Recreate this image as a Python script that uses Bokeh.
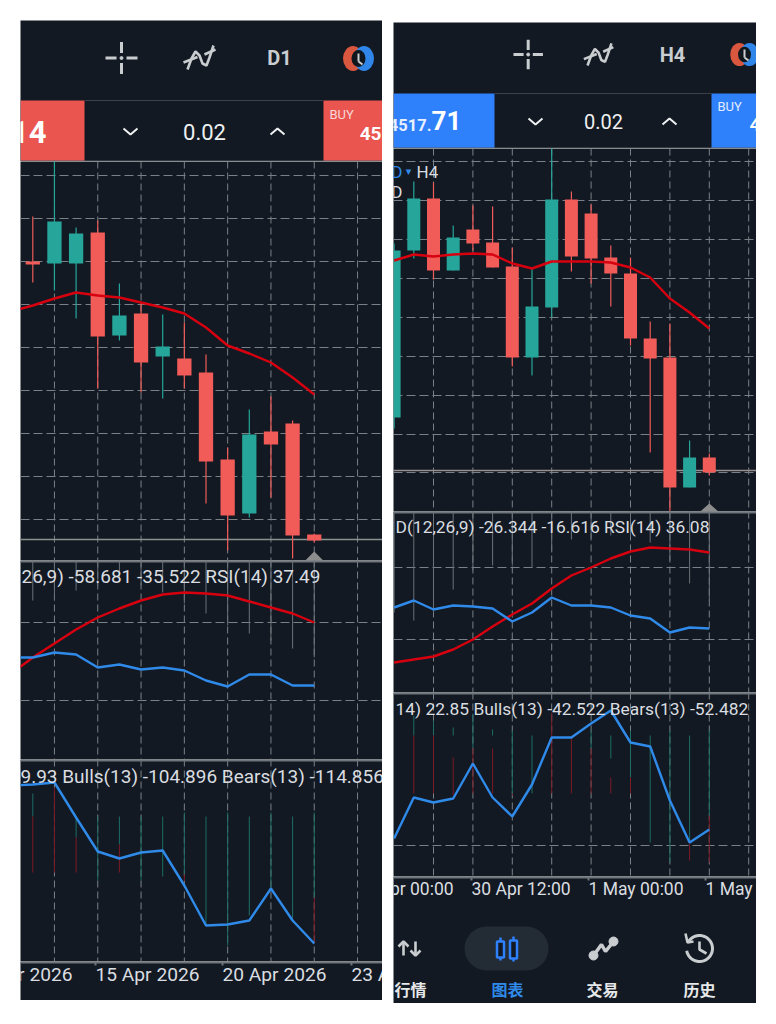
import numpy as np
from bokeh.plotting import figure
from bokeh.layouts import row, column
from bokeh.models import Range1d, Span, Spacer, ColumnDataSource
from bokeh.core.properties import value
from bokeh.embed import file_html
from bokeh.resources import INLINE

# ---- D1 panel values (pane units)
d1_open  = [4778,4776,4776,4807,4704,4726,4683,4681,4667,4580,4526,4608,4616,4505]
d1_high  = [4823,4889,4812,4819,4756,4737,4725,4717,4685,4592,4630,4643,4619,4506]
d1_low   = [4757,4749,4721,4651,4699,4647,4641,4651,4536,4489,4522,4542,4481,4497]
d1_close = [4775,4818,4806,4703,4724,4677,4693,4664,4578,4524,4605,4595,4504,4499]
d1_ma    = [4728,4734,4741,4747,4744,4742,4737,4732,4726,4712,4694,4686,4677,4662,4645]
d1_grid  = [4864,4821,4778,4735,4692,4649,4606,4563,4520]
d1_last  = 4500
d1_macd  = [-129,-129,-124,-126,-139,-136,-141,-139,-142,-152,-158,-146,-146,-157,-157]
d1_signal= [-145,-129,-115,-101,-89,-80,-72,-66,-64,-65,-67,-73,-79,-85,-94]
d1_hist  = [-72,-72,-62,-57,-52,-57,-64,-75,-85,-97,-105,-112,-120,-129]
d1_macd_grid = [-94,-172]
d1_rsi   = [31,32,34,-1,-35,-42,-36,-34,-69,-109,-108,-104,-72,-104,-127]
d1_bull_hi = [23,0,0,0,0,0,0,4,0,4,0,4,0,4]
d1_bull_lo = [0,0,-21,-64,-28,-64,-60,-58,-109,-129,-99,-72,-102,-81]
d1_bear_hi = [0,29,-21,0,-28,0,0,-58,0,0,0,0,0,-81]
d1_bear_lo = [-56,-56,-56,0,-56,0,0,-64,0,0,0,0,0,-127]
d1_text_macd = "26,9) -58.681 -35.522 RSI(14) 37.49"
d1_text_rsi  = "9.93 Bulls(13) -104.896 Bears(13) -114.856"
d1_dates = ["10 Apr 2026","15 Apr 2026","20 Apr 2026","23 Apr 2026"]

# ---- H4 panel values
h4_open  = [4571,4738,4790,4718,4759,4746,4722,4631,4681,4789,4775,4731,4715,4650,4631,4501,4531]
h4_high  = [4745,4807,4806,4763,4783,4782,4741,4720,4848,4797,4784,4743,4731,4667,4665,4548,4535]
h4_low   = [4560,4730,4709,4718,4738,4721,4622,4613,4671,4717,4705,4682,4643,4536,4476,4501,4513]
h4_close = [4738,4790,4718,4751,4745,4721,4631,4682,4789,4732,4730,4715,4650,4630,4501,4531,4516]
h4_ma    = [4728,4734,4732,4734,4735,4734,4725,4720,4727,4727,4727,4726,4721,4711,4690,4676,4660]
h4_grid  = [4827,4788,4749,4710,4671,4632,4593,4554,4516]
h4_last  = 4518
h4_macd  = [-185,-178,-187,-183,-184,-186,-199,-190,-175,-183,-183,-185,-193,-196,-210,-205,-206]
h4_signal= [-240,-237,-234,-227,-217,-204,-192,-181,-166,-153,-145,-136,-129,-125,-126,-127,-130]
h4_hist  = [-190,-198,-190,-167,-148,-143,-143,-145,-130,-117,-116,-113,-113,-120,-138,-161,-178]
h4_macd_grid = [-145,-217]
h4_rsi   = [-103,-62,-67,-63,-28,-62,-81,-49,-2,-2,12,25,-7,-11,-65,-107,-94]
h4_bull_hi = [0,20,15,8,22,6,5,0,0,0,5,0,5,0,5,0,5]
h4_bull_lo = [0,0,0,0,-12,0,-58,-58,0,0,-13,-23,-42,-107,-127,-107,-80]
h4_bear_hi = [0,0,0,-22,-13,-13,-58,0,23,-2,-13,-42,-42,0,0,-107,-80]
h4_bear_lo = [0,-58,-58,-60,-58,-58,-60,0,-58,-58,-58,-58,-58,0,0,-125,-127]
h4_rsi_grid = [-110]
h4_text_macd = "D(12,26,9) -26.344 -16.616 RSI(14) 36.08"
h4_text_rsi  = "14) 22.85 Bulls(13) -42.522 Bears(13) -52.482"
h4_dates = ["30 Apr 00:00","30 Apr 12:00","1 May 00:00","1 May 12:00"]
nav_labels = ["行情","图表","交易","历史"]

BG="#121922"; GRID="#7a8186"; TXT="#dadde0"; SEP="#6f757a"; UP="#26a69a"; DN="#f15b58"
MA_RED="#d8000f"; BLUE="#2f8aea"; BTN_RED="#ea5550"; BTN_BLUE="#2f80fb"; ICON="#c9cdd0"
HIST="#6b7177"; BULL="#1d6d66"; BEAR="#7c1a26"; LW=2.4

TF={}
def tx(f,x):
    b,s,_=TF[f.id]; return (x-b)/s
def ty(f,y):
    return TF[f.id][2]-y if TF[f.id][2] is not None else y

def base_fig(w,h,xr,yr):
    f=figure(width=w,height=h,x_range=xr,y_range=yr,x_axis_location=None,y_axis_location=None,
             toolbar_location=None,output_backend="svg",min_border=0,background_fill_color=BG,
             border_fill_color=BG,outline_line_color=None,tools="")
    f.grid.visible=False
    return f

def pane(x0,x1,ytop,ybot,bar0,step,base,gx):
    f=base_fig(x1-x0,ybot-ytop,Range1d((x0-bar0)/step,(x1-bar0)/step),Range1d(base-ybot,base-ytop))
    TF[f.id]=(bar0,step,base)
    for g in gx:
        f.add_layout(Span(location=g,dimension="height",line_color=GRID,line_width=1,line_dash="7 4",level="underlay"))
    return f

def hgrid(f,vals):
    for v in vals:
        f.add_layout(Span(location=v,dimension="width",line_color=GRID,line_width=1,line_dash="9 4",level="underlay"))

def sep(f,y):
    f.add_layout(Span(location=ty(f,y),dimension="width",line_color=SEP,line_width=2))

def label(f,x,y,t,size=18,color=TXT,align="left",style="normal",font="Roboto"):
    f.text(x=[tx(f,x)],y=[ty(f,y)],text=[t],text_font=value(font),text_font_size=f"{size}px",
           text_color=color,text_align=align,text_baseline="middle",text_font_style=style)

def candles(f,o,h,l,c,width):
    idx=list(range(len(o)))
    col=[UP if b>a else DN for a,b in zip(o,c)]
    src=ColumnDataSource(dict(x=idx,h=h,l=l,top=[max(a,b) for a,b in zip(o,c)],bot=[min(a,b) for a,b in zip(o,c)],col=col))
    f.segment("x","h","x","l",source=src,line_color="col",line_width=1.2)
    f.vbar(x="x",width=width,top="top",bottom="bot",source=src,fill_color="col",line_color=None)

def bars(f,xs,lo,hi,color,width=1):
    f.segment(xs,lo,xs,hi,line_color=color,line_width=width)

def chrome(x0,x1,y0,y1):
    f=base_fig(x1-x0,y1-y0,Range1d(x0,x1),Range1d(y1,y0))
    TF[f.id]=(0,1,None)
    return f

def crosshair(f,cx,cy,s=1.0):
    a,b=5*s,16*s
    xs=[[cx-b,cx-a],[cx+a,cx+b],[cx,cx],[cx,cx]]
    ys=[[cy,cy],[cy,cy],[cy-b,cy-a],[cy+a,cy+b]]
    f.multi_line(xs,ys,line_color=ICON,line_width=3)
    f.scatter([cx],[cy],size=3,color=ICON)

def squiggle(f,cx,cy,s=1.0):
    wx=np.array([-13,-9,-5,-1,2,6,9,13])*s+cx
    wy=np.array([12,1,-6,-2,6,8,0,-12])*s+cy
    f.line(wx,wy,line_color=ICON,line_width=2.6)
    f.multi_line([[cx-17*s,cx-3*s],[cx+4*s,cx+15*s]],[[cy+5*s,cy-.5*s],[cy-3*s,cy-8*s]],line_color=ICON,line_width=2.6)

def clock(f,cx,cy,s=1.0):
    f.ellipse([cx-5.5*s],[cy],width=20*s,height=25*s,fill_color="#d9573f",line_color=None)
    f.ellipse([cx+5.5*s],[cy],width=20*s,height=25*s,fill_color="#2f86e8",line_color=None)
    f.ellipse([cx],[cy],width=14*s,height=17*s,fill_color="#10161d",line_color=None)
    f.segment([cx,cx],[cy-5,cy+3],[cx,cx+4],[cy+3,cy+6],line_color=ICON,line_width=2)

def chevron(f,x,y,up=False):
    d=-1 if up else 1
    f.line([x-7,x,x+7],[y-3*d,y+3*d,y-3*d],line_color="#eef0f1",line_width=2)

def header(x0,x1,y0,y1,ysep,title,cross,sq,ck,lots,sell,buy,color,lot_size):
    f=chrome(x0,x1,y0,y1)
    f.quad(left=[sell[0],buy[0]],right=[sell[1],buy[1]],top=[ysep,ysep],bottom=[y1,y1],fill_color=color,line_color=None)
    f.segment([sell[1]],[ysep],[buy[0]],[ysep],line_color="#3a4148",line_width=1)
    f.segment([x0],[y1-.5],[x1],[y1-.5],line_color="#565c62",line_width=1)
    crosshair(f,*cross); squiggle(f,*sq); clock(f,*ck)
    label(f,title[0],title[1],title[2],size=20,color=ICON,align="center",style="bold")
    label(f,lots[0],lots[1],"0.02",size=lot_size,color="#eef0f1",align="center")
    chevron(f,lots[2],lots[1]); chevron(f,lots[3],lots[1],up=True)
    return f

# ================= left panel =================
L0,L1=20,382; lb0,ls=32.3,21.65; lgx=list(range(1,17,2))
lh=header(L0,L1,20,161,100,(279,57,"D1"),(121,57.5),(200,57),(358,58),(204,131,130,277),(20,84),(323,382),BTN_RED,22)
label(lh,46,131,"14",size=31,color="#ffffff",align="right",style="bold")
label(lh,329,114,"BUY",size=13,color="#f6d9d8")
label(lh,381,133,"45",size=19,color="#ffffff",align="right",style="bold")

l1=pane(L0,L1,161,560,lb0,ls,5039,lgx)
hgrid(l1,d1_grid)
l1.add_layout(Span(location=d1_last,dimension="width",line_color="#8b928e",line_width=1.6,level="underlay"))
candles(l1,d1_open,d1_high,d1_low,d1_close,.66)
l1.line(list(range(-1,14)),d1_ma,line_color=MA_RED,line_width=LW)
l1.patch([13-9/ls,13,13+9/ls],[ty(l1,560),ty(l1,551),ty(l1,560)],fill_color="#8d8d8e",line_color=None)

l2=pane(L0,L1,560,759,lb0,ls,528,lgx)
hgrid(l2,d1_macd_grid); sep(l2,561)
bars(l2,list(range(14)),[0]*14,d1_hist,HIST)
l2.line(list(range(-1,14)),d1_signal,line_color=MA_RED,line_width=LW)
l2.line(list(range(-1,14)),d1_macd,line_color=BLUE,line_width=LW)
label(l2,21,576,d1_text_macd,size=19)

l3=pane(L0,L1,759,961,lb0,ls,816,lgx)
sep(l3,760)
bars(l3,list(range(14)),d1_bull_lo,d1_bull_hi,BULL)
bars(l3,list(range(14)),d1_bear_lo,d1_bear_hi,BEAR)
l3.line(list(range(-1,14)),d1_rsi,line_color=BLUE,line_width=LW)
label(l3,20,776,d1_text_rsi,size=19)

lf=chrome(L0,L1,961,1000)
lf.segment([L0],[962],[L1],[962],line_color=SEP,line_width=2)
lf.segment([95,222,351],[962]*3,[95,222,351],[965]*3,line_color=SEP,line_width=2)
for x,t in zip([-32,95,222,351],d1_dates):
    label(lf,x,974,t,size=19.2)

left=column(Spacer(height=20),lh,l1,l2,l3,lf,spacing=0)

# ================= right panel =================
R0,R1=393,756; rb0,rs=393.6,19.7; rgx=list(range(2,20,2))
rh=header(R0,R1,22,148,93,(672,54,"H4"),(527.7,54,.92),(599,54,.92),(744,54,.92),(603,121,535,669),(393,494),(711,756),BTN_BLUE,20)
label(rh,431,124,"4517.",size=16.5,color="#e8f0ff",align="right",style="bold")
label(rh,431,120,"71",size=26,color="#ffffff",style="bold")
label(rh,717,106,"BUY",size=13,color="#e3edff")
label(rh,749,124,"4",size=19,color="#ffffff",style="bold")

r1=pane(R0,R1,148,511,rb0,rs,4988,rgx)
hgrid(r1,h4_grid)
r1.add_layout(Span(location=h4_last,dimension="width",line_color="#9a908e",line_width=1.6,level="underlay"))
candles(r1,h4_open,h4_high,h4_low,h4_close,.66)
r1.line(list(range(17)),h4_ma,line_color=MA_RED,line_width=LW)
r1.patch([16-9/rs,16,16+9/rs],[ty(r1,511),ty(r1,503),ty(r1,511)],fill_color="#8d8d8e",line_color=None)
label(r1,402,171,"D",size=17,color=BLUE,align="right")
label(r1,408,171,"▾",size=11,color=BLUE,align="center",font="DejaVu Sans")
label(r1,416,171,"H4",size=17)
label(r1,402,191,"D",size=17,align="right")

r2=pane(R0,R1,511,692,rb0,rs,422,rgx)
hgrid(r2,h4_macd_grid); sep(r2,512)
bars(r2,list(range(17)),[0]*17,h4_hist,HIST)
r2.line(list(range(17)),h4_signal,line_color=MA_RED,line_width=LW)
r2.line(list(range(17)),h4_macd,line_color=BLUE,line_width=LW)
label(r2,395,526,h4_text_macd,size=17.4)

r3=pane(R0,R1,692,876,rb0,rs,735,rgx)
hgrid(r3,h4_rsi_grid); sep(r3,693)
bars(r3,list(range(17)),h4_bull_lo,h4_bull_hi,BULL)
bars(r3,list(range(17)),h4_bear_lo,h4_bear_hi,BEAR)
r3.line(list(range(17)),h4_rsi,line_color=BLUE,line_width=LW)
label(r3,395,708,h4_text_rsi,size=17.4)

rf=chrome(R0,R1,876,1003)
rf.segment([R0],[877],[R1],[877],line_color=SEP,line_width=2)
rf.segment([471,588,705],[877]*3,[471,588,705],[880]*3,line_color=SEP,line_width=2)
for x,t in zip([354,471,588,705],h4_dates):
    label(rf,x,888,t,size=17.5)
# bottom navigation
rf.ellipse([486,526],[948,948],width=44,height=44,fill_color="#232b34",line_color=None)
rf.quad(left=[486],right=[526],top=[926],bottom=[970],fill_color="#232b34",line_color=None)
# up/down arrows
rf.multi_line([[403,403],[398,403,408],[415,415],[410,415,420]],[[955,941],[946,941,946],[941,955],[950,955,950]],line_color=ICON,line_width=2.6)
# candle icon
rf.segment([500,513],[937,936],[500,513],[960,961],line_color=BTN_BLUE,line_width=2.5)
rf.quad(left=[496.5,509.5],right=[503.5,516.5],top=[941,940],bottom=[957,958],fill_color=BG,line_color=BTN_BLUE,line_width=2.5)
# trade icon
rf.line([593,601,605,613],[955,944,951,941],line_color=ICON,line_width=3.5)
rf.scatter([593,613],[955,941],size=9,color=ICON)
# history icon
ang=np.radians(np.linspace(-150,170,40))
rf.line(699+13*np.cos(ang),948+13*np.sin(ang),line_color=ICON,line_width=3)
rf.line([699,699,706],[941,949,953],line_color=ICON,line_width=2.6)
rf.line([685,687,693],[933,942,941],line_color=ICON,line_width=2.6)
for x,t,c in zip([410,507,602,699],nav_labels,[ "#e6e8ea",BLUE,"#e6e8ea","#e6e8ea"]):
    label(rf,x,988,t,size=16,color=c,align="center",font="Noto Sans CJK SC",style="bold")

right=column(Spacer(height=22),rh,r1,r2,r3,rf,spacing=0)

page=row(Spacer(width=20),left,Spacer(width=11),right,spacing=0)
open("out.html","w").write(file_html(page,INLINE))
